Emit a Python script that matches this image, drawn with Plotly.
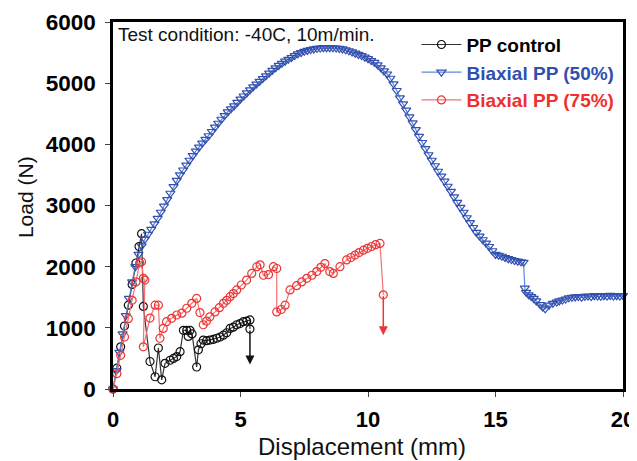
import plotly.graph_objects as go

# ---------------- data ----------------
blue_x = [0, 0.125, 0.25, 0.375, 0.5, 0.625, 0.75, 0.875, 1.0, 1.125, 1.25, 1.375, 1.5, 1.625, 1.75, 1.875,
          2.0, 2.125, 2.25, 2.375, 2.5, 2.625, 2.75, 2.875, 3.0, 3.125, 3.25, 3.375, 3.5, 3.625, 3.75, 3.875,
          4.0, 4.125, 4.25, 4.375, 4.5, 4.625, 4.75, 4.875, 5.0, 5.125, 5.25, 5.375, 5.5, 5.625, 5.75, 5.875,
          6.0, 6.125, 6.25, 6.375, 6.5, 6.625, 6.75, 6.875, 7.0, 7.125, 7.25, 7.375, 7.5, 7.625, 7.75, 7.875,
          8.0, 8.125, 8.25, 8.375, 8.5, 8.625, 8.75, 8.875, 9.0, 9.125, 9.25, 9.375, 9.5, 9.625, 9.75, 9.875,
          10.0, 10.125, 10.25, 10.375, 10.5, 10.625, 10.75, 10.875, 11.0, 11.125, 11.25, 11.375, 11.5, 11.625,
          11.75, 11.875, 12.0, 12.125, 12.25, 12.375, 12.5, 12.625, 12.75, 12.875, 13.0, 13.125, 13.25, 13.375,
          13.5, 13.625, 13.75, 13.875, 14.0, 14.125, 14.25, 14.375, 14.5, 14.625, 14.75, 14.875, 15.0, 15.125,
          15.25, 15.375, 15.5, 15.625, 15.75, 15.875, 16.0, 16.1, 16.15, 16.2, 16.3, 16.4, 16.5, 16.6, 16.75,
          16.85, 16.95, 17.1, 17.25, 17.4, 17.5, 17.625, 17.75, 17.875, 18.0, 18.125, 18.25, 18.375, 18.5,
          18.625, 18.75, 18.875, 19.0, 19.125, 19.25, 19.375, 19.5, 19.625, 19.75, 19.875, 20.0]
blue_y = [0, 300, 600, 900, 1200, 1480, 1750, 2000, 2200, 2340, 2450, 2530, 2610, 2700, 2790, 2890,
          2990, 3095, 3200, 3310, 3410, 3500, 3580, 3660, 3740, 3815, 3890, 3955, 4020, 4080, 4140, 4210,
          4280, 4345, 4410, 4470, 4530, 4580, 4630, 4685, 4740, 4790, 4840, 4890, 4940, 4985, 5030, 5075,
          5120, 5165, 5210, 5250, 5290, 5325, 5360, 5390, 5420, 5450, 5480, 5500, 5520, 5535, 5550, 5560,
          5570, 5575, 5580, 5580, 5580, 5578, 5575, 5568, 5560, 5545, 5530, 5510, 5490, 5470, 5450, 5425,
          5400, 5370, 5340, 5300, 5250, 5200, 5150, 5080, 4990, 4880, 4760, 4660, 4560, 4450,
          4350, 4240, 4130, 4030, 3930, 3830, 3740, 3650, 3560, 3480, 3400, 3315, 3230, 3140,
          3050, 2970, 2890, 2800, 2720, 2640, 2560, 2500, 2440, 2385, 2330, 2260, 2200, 2185,
          2170, 2150, 2130, 2115, 2100, 2090, 2080, 2070, 1650, 1580, 1540, 1510, 1480, 1440, 1380,
          1340, 1310, 1370, 1400, 1420, 1440, 1455, 1470, 1490, 1500, 1505, 1510, 1500, 1515,
          1520, 1510, 1525, 1520, 1515, 1525, 1520, 1530, 1520, 1525, 1520, 1525]

black_x = [0, 0.15, 0.3, 0.45, 0.6, 0.75, 0.9, 1.02, 1.12, 1.19, 1.45, 1.65, 1.78, 1.91, 2.04,
           2.24, 2.37, 2.5, 2.63, 2.76, 2.89, 2.95, 3.02, 3.1, 3.28, 3.35, 3.45, 3.54, 3.67, 3.8,
           3.93, 4.07, 4.2, 4.33, 4.46, 4.59, 4.72, 4.85, 4.98, 5.11, 5.24, 5.37, 5.37]
black_y = [0, 340, 690, 1030, 1370, 1710, 2060, 2330, 2540, 1350, 450, 200, 670, 150, 420,
           470, 500, 530, 610, 960, 960, 860, 960, 900, 360, 640, 740, 800, 790, 800,
           810, 830, 850, 880, 920, 990, 1010, 1050, 1070, 1100, 1110, 1130, 980]

red_x = [0, 0.15, 0.3, 0.45, 0.6, 0.75, 0.9, 1.05, 1.12, 1.19, 1.25, 1.19, 1.45, 1.65, 1.78, 1.84,
         1.97, 2.1, 2.3, 2.5, 2.7, 2.89, 3.09, 3.28, 3.41, 3.54, 3.67, 3.8, 4.0, 4.17, 4.33, 4.46,
         4.59, 4.72, 4.85, 5.03, 5.24, 5.44, 5.64, 5.77, 5.9, 6.1, 6.29, 6.42, 6.42, 6.6, 6.75,
         6.94, 7.2, 7.4, 7.6, 7.8, 7.99, 8.15, 8.31, 8.5, 8.64, 8.9, 9.16, 9.33, 9.49, 9.65, 9.82,
         9.98, 10.14, 10.3, 10.47, 10.6]
red_y = [0, 250, 550, 850, 1150, 1450, 1750, 2060, 2080, 1810, 1780, 690, 1160, 1370, 1370, 830,
         990, 1100, 1155, 1210, 1240, 1320, 1400, 1480, 1250, 1050, 1110, 1180, 1260, 1330, 1400, 1450,
         1510, 1560, 1620, 1700, 1780, 1890, 2000, 2030, 1860, 1870, 2000, 1970, 1260, 1300, 1370,
         1620, 1690, 1750, 1810, 1860, 1920, 1990, 2050, 1920, 1890, 2000, 2110, 2150, 2190, 2230, 2270,
         2300, 2330, 2360, 2380, 1540]

# failure arrows: (x, start load, end load)
black_arrow = (5.37, 980, 400)
red_arrow = (10.6, 1540, 880)

x_ticks = [0, 5, 10, 15, 20]
y_ticks = [0, 1000, 2000, 3000, 4000, 5000, 6000]

x_title = "Displacement (mm)"
y_title = "Load (N)"
note = "Test condition: -40C, 10m/min."

FONT = "Arial, Liberation Sans, sans-serif"
BLACK_M, BLACK_L = "#111111", "#333333"
BLUE_M, BLUE_L = "#3350b0", "#5a88d8"
RED_M, RED_L = "#ee3535", "#f47272"

fig = go.Figure()
fig.add_trace(go.Scatter(
    x=black_x, y=black_y, mode="lines+markers",
    name="<b><span style='color:#000000'>PP control</span></b>",
    line=dict(color=BLACK_L, width=1.2),
    marker=dict(symbol="circle-open", size=8, color=BLACK_M, line=dict(width=1.2)),
    cliponaxis=False))
fig.add_trace(go.Scatter(
    x=blue_x, y=blue_y, mode="lines+markers",
    name="<b><span style='color:#3050b0'>Biaxial PP (50%)</span></b>",
    line=dict(color=BLUE_L, width=1.2),
    marker=dict(symbol="triangle-down-open", size=8, color=BLUE_M, line=dict(width=1.2)),
    cliponaxis=False))
fig.add_trace(go.Scatter(
    x=red_x, y=red_y, mode="lines+markers",
    name="<b><span style='color:#ee3030'>Biaxial PP (75%)</span></b>",
    line=dict(color=RED_L, width=1.2),
    marker=dict(symbol="circle-open", size=8, color=RED_M, line=dict(width=1.2)),
    cliponaxis=False))

for (ax_x, y0, y1), col in [(black_arrow, BLACK_M), (red_arrow, RED_M)]:
    fig.add_annotation(x=ax_x, y=y1, ax=ax_x, ay=y0, xref="x", yref="y", axref="x", ayref="y",
                       text="", showarrow=True, arrowhead=2, arrowsize=1.2, arrowwidth=1.5,
                       arrowcolor=col)

fig.add_annotation(x=0.006, y=1.0, xref="paper", yref="paper", xanchor="left", yanchor="top",
                   text=note, showarrow=False,
                   font=dict(family=FONT, size=19, color="#111111"))
# axis titles
fig.add_annotation(x=0.488, y=0, xref="paper", yref="paper", xanchor="center", yanchor="middle",
                   yshift=-57, text=x_title, showarrow=False,
                   font=dict(family=FONT, size=24, color="#111111"))
fig.add_annotation(x=0, y=0.523, xref="paper", yref="paper", xanchor="center", yanchor="middle",
                   xshift=-88, textangle=-90, text=y_title, showarrow=False,
                   font=dict(family=FONT, size=21, color="#111111"))

# page body adds an 8px margin around the figure, so the figure is offset by it
fig.update_layout(
    width=629, height=453,
    margin=dict(l=105, r=14, t=14, b=72),
    paper_bgcolor="white", plot_bgcolor="white",
    showlegend=True,
    legend=dict(x=0.595, y=0.99, xanchor="left", yanchor="top", bgcolor="rgba(0,0,0,0)",
                font=dict(family=FONT, size=19), tracegroupgap=0, itemwidth=40),
    xaxis=dict(range=[0, 20], tickvals=x_ticks, showgrid=False, zeroline=False, automargin=False,
               showline=True, linecolor="black", linewidth=2.5, mirror=True,
               ticks="outside", ticklen=5, tickwidth=1, tickcolor="#444", ticklabelstandoff=4,
               ticklabeloverflow="allow",
               tickfont=dict(family=FONT, size=22, color="black", weight="bold")),
    yaxis=dict(range=[0, 6000], tickvals=y_ticks, showgrid=False, zeroline=False, automargin=False,
               showline=True, linecolor="black", linewidth=2.5, mirror=True,
               ticks="outside", ticklen=5, tickwidth=1, tickcolor="#444", ticklabelstandoff=5,
               ticklabeloverflow="allow",
               tickfont=dict(family=FONT, size=22.5, color="black", weight="bold")),
)

fig.write_html("out.html")
